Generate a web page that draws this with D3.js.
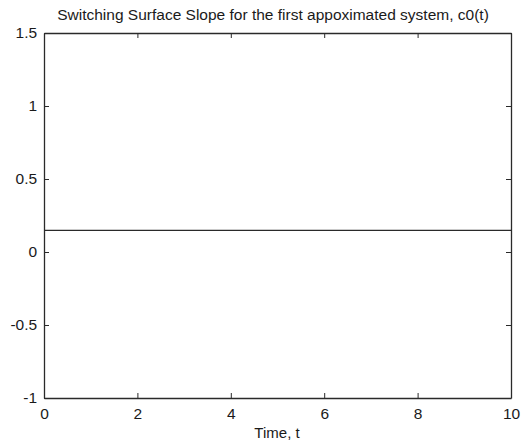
<!DOCTYPE html>
<html>
<head>
<meta charset="utf-8">
<script src="https://cdn.jsdelivr.net/npm/d3@7"></script>
<style>
  html, body { margin: 0; padding: 0; background: #fff; }
  svg { display: block; }
  text { font-family: "Liberation Sans", Arial, Helvetica, sans-serif; fill: #1a1a1a; }
</style>
</head>
<body>
<svg id="chart" width="523" height="443"></svg>
<script>
const titleText = "Switching Surface Slope for the first appoximated system, c0(t)";
const xLabelText = "Time, t";
const timeValues = [0, 1, 2, 3, 4, 5, 6, 7, 8, 9, 10];
const c0Values = [0.148, 0.148, 0.148, 0.148, 0.148, 0.148, 0.148, 0.148, 0.148, 0.148, 0.148];
const xTicks = [0, 2, 4, 6, 8, 10];
const yTicks = [-1, -0.5, 0, 0.5, 1, 1.5];

(function () {
const svg = d3.select("#chart");
const mLeft = 44, mRight = 511, mTop = 33, mBottom = 398;
const x = d3.scaleLinear().domain([0, 10]).range([mLeft, mRight]);
const y = d3.scaleLinear().domain([-1, 1.5]).range([mBottom, mTop]);
const stroke = "#2a2a2a";
const fmt = d => String(d);

const gB = svg.append("g").attr("transform", `translate(0,${mBottom})`)
  .call(d3.axisBottom(x).tickValues(xTicks).tickFormat(fmt).tickSizeInner(-5).tickSizeOuter(0).tickPadding(10));
const gT = svg.append("g").attr("transform", `translate(0,${mTop})`)
  .call(d3.axisTop(x).tickValues(xTicks).tickFormat("").tickSizeInner(-5).tickSizeOuter(0));
const gL = svg.append("g").attr("transform", `translate(${mLeft},0)`)
  .call(d3.axisLeft(y).tickValues(yTicks).tickFormat(fmt).tickSizeInner(-5).tickSizeOuter(0).tickPadding(10));
const gR = svg.append("g").attr("transform", `translate(${mRight},0)`)
  .call(d3.axisRight(y).tickValues(yTicks).tickFormat("").tickSizeInner(-5).tickSizeOuter(0));

[gB, gT, gL, gR].forEach(g => {
  g.select(".domain").attr("stroke", stroke).attr("stroke-width", 1.3);
  g.selectAll(".tick line").attr("stroke", stroke).attr("stroke-width", 1);
  g.selectAll(".tick text").attr("font-size", 15.5).attr("fill", "#1a1a1a")
    .style("font-family", "'Liberation Sans', Arial, sans-serif");
});
gL.selectAll(".tick text").attr("dx", "0.2em");

const line = d3.line().x((d, i) => x(timeValues[i])).y(d => y(d));
svg.append("path").datum(c0Values)
  .attr("d", line).attr("fill", "none").attr("stroke", stroke).attr("stroke-width", 1.4);

svg.append("text").attr("x", 273).attr("y", 20)
  .attr("text-anchor", "middle").attr("font-size", 15.5).text(titleText);
svg.append("text").attr("x", 277).attr("y", 438)
  .attr("text-anchor", "middle").attr("font-size", 15).text(xLabelText);
})();
</script>
</body>
</html>
